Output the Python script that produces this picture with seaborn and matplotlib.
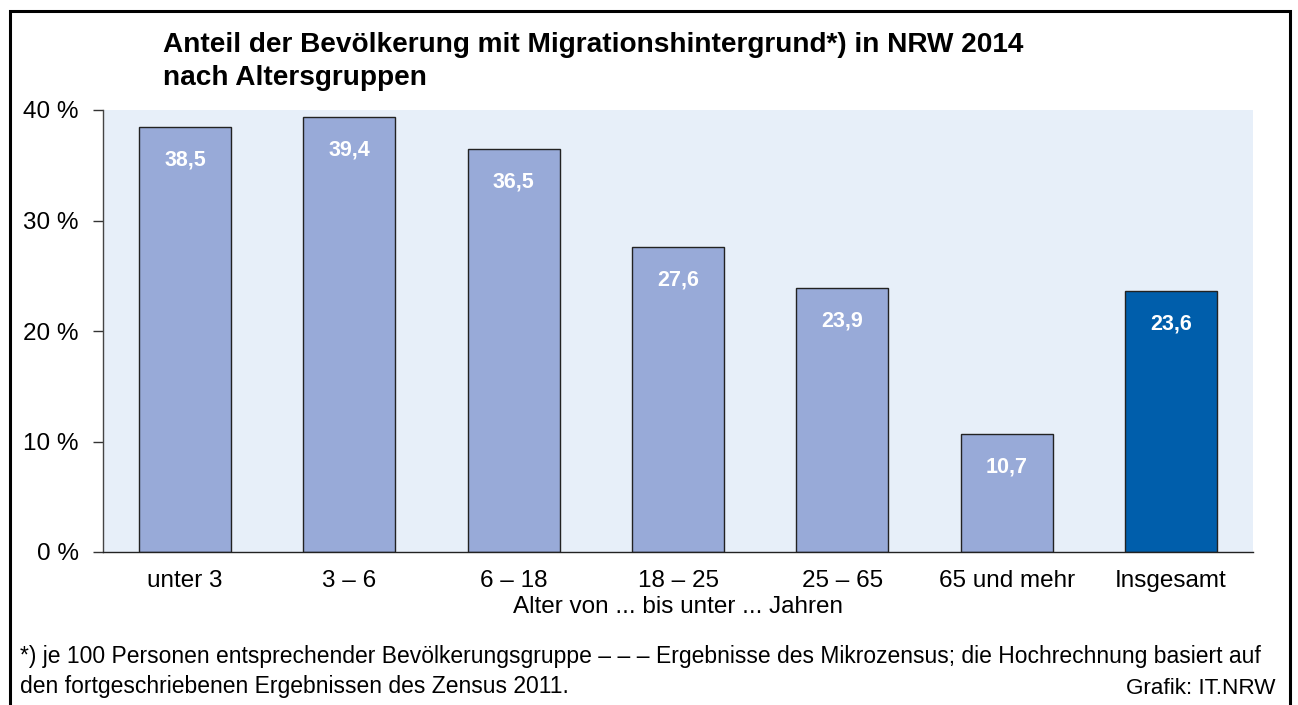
import matplotlib
matplotlib.use("Agg")
import matplotlib.pyplot as plt
import seaborn as sns
import pandas as pd
from matplotlib.patches import Rectangle

sns.set_theme(style="white")
plt.rcParams["font.family"] = ["Liberation Sans", "DejaVu Sans"]
plt.rcParams["text.color"] = "black"
plt.rcParams["axes.labelcolor"] = "black"
plt.rcParams["xtick.color"] = "black"
plt.rcParams["ytick.color"] = "black"

# Daten
categories = ["unter 3", "3 – 6", "6 – 18", "18 – 25", "25 – 65", "65 und mehr", "Insgesamt"]
values = [38.5, 39.4, 36.5, 27.6, 23.9, 10.7, 23.6]
value_labels = ["38,5", "39,4", "36,5", "27,6", "23,9", "10,7", "23,6"]
y_ticks = [0, 10, 20, 30, 40]
y_tick_labels = ["0 %", "10 %", "20 %", "30 %", "40 %"]

bar_colors = ["#98aad8"] * 6 + ["#005eab"]

df = pd.DataFrame({"Alter": categories, "Anteil": values})

W, H = 1298, 705
fig = plt.figure(figsize=(W / 100, H / 100), dpi=100)
ax = fig.add_axes([103 / W, 1 - 552 / H, 1150 / W, 442 / H])
ax.set_facecolor("#e7eff9")

sns.barplot(
    data=df, x="Alter", y="Anteil", hue="Alter", palette=bar_colors,
    legend=False, width=0.56, edgecolor="#222222", linewidth=1.0,
    saturation=1, ax=ax,
)

ax.set_ylim(0, 40)
ax.set_xlim(-0.5, len(categories) - 0.5)
ax.set_yticks(y_ticks)
ax.set_yticklabels(y_tick_labels, fontsize=17.5)
ax.tick_params(axis="y", direction="out", length=7.5, width=1, color="#333333", pad=10, left=True)
ax.tick_params(axis="x", length=0, labelsize=17.5, pad=13)
ax.set_xlabel("Alter von ... bis unter ... Jahren", fontsize=17.5, va="center")
ax.xaxis.set_label_coords(0.5, -(607 - 552) / 442)
ax.set_ylabel("")

for s in ["top", "right"]:
    ax.spines[s].set_visible(False)
ax.spines["left"].set_color("#444444")
ax.spines["left"].set_linewidth(1)
ax.spines["bottom"].set_color("#222222")
ax.spines["bottom"].set_linewidth(1)

# Werte in den Balken
for i, (v, lab) in enumerate(zip(values, value_labels)):
    ax.annotate(lab, xy=(i, v), xytext=(0, -33), textcoords="offset pixels",
                ha="center", va="center", color="white", fontsize=15.5, fontweight="bold")

# Titel
fig.text(163 / W, 1 - 45 / H, "Anteil der Bevölkerung mit Migrationshintergrund*) in NRW 2014",
         fontsize=20.2, fontweight="bold", va="center", ha="left")
fig.text(163 / W, 1 - 78 / H, "nach Altersgruppen",
         fontsize=20.2, fontweight="bold", va="center", ha="left")

# Fußnote
fig.text(20 / W, 1 - 656 / H,
         "*) je 100 Personen entsprechender Bevölkerungsgruppe – – – Ergebnisse des Mikrozensus; die Hochrechnung basiert auf",
         fontsize=16.5, va="center", ha="left")
fig.text(20 / W, 1 - 686 / H, "den fortgeschriebenen Ergebnissen des Zensus 2011.",
         fontsize=16.5, va="center", ha="left")
fig.text(1276 / W, 1 - 689 / H, "Grafik: IT.NRW", fontsize=16.2, va="center", ha="right")

# Rahmen
fig.patches.append(Rectangle((9.5 / W, -0.05), (1290 - 9.5) / W, 1 - 11 / H + 0.05,
                             transform=fig.transFigure, fill=False,
                             edgecolor="black", linewidth=2.2))

fig.savefig("out.png", dpi=100)
